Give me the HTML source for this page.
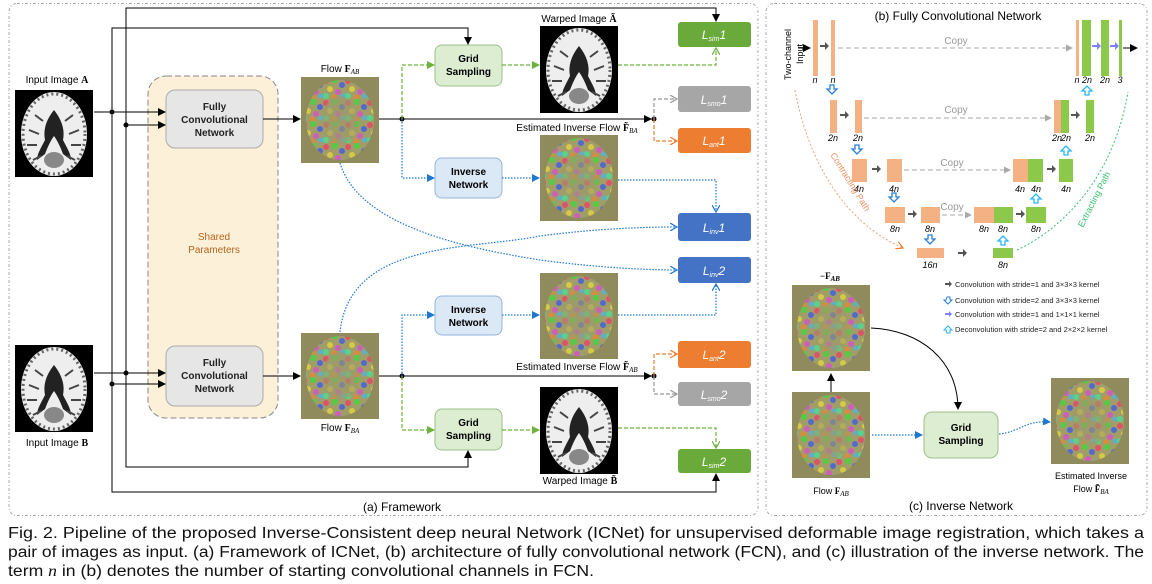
<!DOCTYPE html>
<html><head><meta charset="utf-8"><style>
html,body{margin:0;padding:0;background:#fff;}
svg{display:block;}
text{font-family:"Liberation Sans",sans-serif;}
.s{font-family:"Liberation Serif",serif;}
</style></head><body>
<svg width="1152" height="584" viewBox="0 0 1152 584" xmlns="http://www.w3.org/2000/svg">
<defs>
<marker id="ak" markerWidth="8" markerHeight="8" refX="7" refY="4" orient="auto" markerUnits="userSpaceOnUse"><path d="M0,0L8,4L0,8z" fill="#000"/></marker>
<marker id="ag" markerWidth="8" markerHeight="8" refX="7" refY="4" orient="auto" markerUnits="userSpaceOnUse"><path d="M0,0L8,4L0,8z" fill="#6bb33a"/></marker>
<marker id="agO" markerWidth="8" markerHeight="8" refX="7" refY="4" orient="auto" markerUnits="userSpaceOnUse"><path d="M0,0L7,4L0,8" fill="none" stroke="#6bb33a" stroke-width="1.2"/></marker>
<marker id="ab" markerWidth="8" markerHeight="8" refX="7" refY="4" orient="auto" markerUnits="userSpaceOnUse"><path d="M0,0L8,4L0,8z" fill="#1f77d0"/></marker>
<marker id="abO" markerWidth="8" markerHeight="8" refX="7" refY="4" orient="auto" markerUnits="userSpaceOnUse"><path d="M0,0L7,4L0,8" fill="none" stroke="#1f77d0" stroke-width="1.2"/></marker>
<marker id="aoO" markerWidth="8" markerHeight="8" refX="7" refY="4" orient="auto" markerUnits="userSpaceOnUse"><path d="M0,0L7,4L0,8" fill="none" stroke="#ee7d31" stroke-width="1.2"/></marker>
<marker id="ayO" markerWidth="8" markerHeight="8" refX="7" refY="4" orient="auto" markerUnits="userSpaceOnUse"><path d="M0,0L7,4L0,8" fill="none" stroke="#999" stroke-width="1.2"/></marker>
<marker id="ay" markerWidth="7" markerHeight="7" refX="6" refY="3.5" orient="auto" markerUnits="userSpaceOnUse"><path d="M0,0L7,3.5L0,7z" fill="#aaa"/></marker>
<pattern id="fl" width="22" height="22" patternUnits="userSpaceOnUse">
<rect width="22" height="22" fill="#a9a56e"/>
<circle cx="3" cy="4" r="3" fill="#ff3b6b"/><circle cx="12" cy="3" r="3" fill="#39e83a"/>
<circle cx="19" cy="8" r="3" fill="#3b5bff"/><circle cx="7" cy="12" r="3" fill="#f5e33a"/>
<circle cx="15" cy="15" r="3" fill="#e84be0"/><circle cx="3" cy="19" r="3" fill="#40f0a0"/>
<circle cx="11" cy="20" r="2.5" fill="#ff8a2a"/><circle cx="20" cy="19" r="2.5" fill="#44c0ff"/>
</pattern>
<g id="flow"><rect width="78" height="86" fill="#8f8b5d"/><ellipse cx="39" cy="43" rx="34" ry="40" fill="url(#fl)" opacity="0.7"/><ellipse cx="39" cy="43" rx="18" ry="24" fill="#9d9a6a" opacity="0.6"/></g>
<g id="brain"><rect width="78" height="87" fill="#000"/><ellipse cx="39" cy="44" rx="33" ry="42" fill="#eeeeee"/><ellipse cx="39" cy="44" rx="31" ry="40" fill="none" stroke="#666" stroke-width="3" stroke-dasharray="2 3"/><path d="M39,20 C31,30 28,40 30,50 C26,58 22,64 22,70 L30,64 C33,56 36,50 39,46 C42,50 45,56 48,64 L56,70 C56,64 52,58 48,50 C50,40 47,30 39,20z" fill="#222"/><ellipse cx="39" cy="70" rx="10" ry="8" fill="#888"/><path d="M14,40 l10,4 M12,55 l10,0 M64,40 l-10,4 M66,55 l-10,0 M20,25 l8,6 M58,25 l-8,6 M18,70 l8,-4 M60,70 l-8,-4" stroke="#444" stroke-width="2"/></g>
</defs>

<rect x="9" y="3.5" width="749" height="512" rx="8" fill="none" stroke="#aaa" stroke-dasharray="3 2 1 2"/>
<rect x="766" y="3.5" width="381" height="512" rx="8" fill="none" stroke="#aaa" stroke-dasharray="3 2 1 2"/>

<text x="57" y="83" font-size="10" text-anchor="middle">Input Image <tspan class="s" font-weight="bold">A</tspan></text>
<use href="#brain" x="15" y="90"/>
<use href="#brain" x="15" y="345"/>
<text x="57" y="446" font-size="10" text-anchor="middle">Input Image <tspan class="s" font-weight="bold">B</tspan></text>

<rect x="148" y="76" width="130" height="342" rx="18" fill="#fdf0d8" stroke="#888" stroke-dasharray="6 3"/>
<text x="214" y="240" font-size="10" fill="#b5651d" text-anchor="middle">Shared</text>
<text x="214" y="253" font-size="10" fill="#b5651d" text-anchor="middle">Parameters</text>
<rect x="166" y="90" width="97" height="58" rx="9" fill="#e6e6e6" stroke="#aaa"/>
<text font-size="10" font-weight="bold" text-anchor="middle" fill="#222"><tspan x="214.5" y="110">Fully</tspan><tspan x="214.5" y="123">Convolutional</tspan><tspan x="214.5" y="136">Network</tspan></text>
<rect x="166" y="346" width="97" height="60" rx="9" fill="#e6e6e6" stroke="#aaa"/>
<text font-size="10" font-weight="bold" text-anchor="middle" fill="#222"><tspan x="214.5" y="366">Fully</tspan><tspan x="214.5" y="379">Convolutional</tspan><tspan x="214.5" y="392">Network</tspan></text>

<text x="340" y="72" font-size="10" text-anchor="middle">Flow <tspan class="s" font-weight="bold">F</tspan><tspan class="s" font-style="italic" font-size="7" dy="2">AB</tspan></text>
<use href="#flow" x="301" y="77"/>
<use href="#flow" x="301" y="333"/>
<text x="340" y="431" font-size="10" text-anchor="middle">Flow <tspan class="s" font-weight="bold">F</tspan><tspan class="s" font-style="italic" font-size="7" dy="2">BA</tspan></text>

<rect x="435" y="45" width="67" height="41" rx="7" fill="#dcedd2" stroke="#9bc08a"/>
<text font-size="10" font-weight="bold" text-anchor="middle"><tspan x="468.5" y="62">Grid</tspan><tspan x="468.5" y="75">Sampling</tspan></text>
<rect x="435" y="409" width="67" height="41" rx="7" fill="#dcedd2" stroke="#9bc08a"/>
<text font-size="10" font-weight="bold" text-anchor="middle"><tspan x="468.5" y="426">Grid</tspan><tspan x="468.5" y="439">Sampling</tspan></text>
<rect x="435" y="158" width="67" height="40" rx="7" fill="#dbe8f6" stroke="#93b5dc"/>
<text font-size="10" font-weight="bold" text-anchor="middle"><tspan x="468.5" y="175">Inverse</tspan><tspan x="468.5" y="188">Network</tspan></text>
<rect x="435" y="296" width="67" height="39" rx="7" fill="#dbe8f6" stroke="#93b5dc"/>
<text font-size="10" font-weight="bold" text-anchor="middle"><tspan x="468.5" y="313">Inverse</tspan><tspan x="468.5" y="326">Network</tspan></text>

<text x="579" y="22" font-size="10" text-anchor="middle">Warped Image <tspan class="s" font-weight="bold">Ã</tspan></text>
<use href="#brain" x="540" y="26"/>
<text x="577" y="131" font-size="10" text-anchor="middle">Estimated Inverse Flow <tspan class="s" font-weight="bold">F̃</tspan><tspan class="s" font-style="italic" font-size="7" dy="2">BA</tspan></text>
<use href="#flow" x="540" y="135"/>
<use href="#flow" x="540" y="273"/>
<text x="577" y="370" font-size="10" text-anchor="middle">Estimated Inverse Flow <tspan class="s" font-weight="bold">F̃</tspan><tspan class="s" font-style="italic" font-size="7" dy="2">AB</tspan></text>
<use href="#brain" x="540" y="387"/>
<text x="580" y="484" font-size="10" text-anchor="middle">Warped Image <tspan class="s" font-weight="bold">B̃</tspan></text>

<g font-size="12" font-style="italic" fill="#fff" text-anchor="middle">
<rect x="678" y="22" width="73" height="25" rx="3" fill="#6aaa3a"/><text x="714" y="39">L<tspan font-size="7" dy="2">sim</tspan><tspan dy="-2">1</tspan></text>
<rect x="678" y="86" width="73" height="26" rx="3" fill="#a6a6a6"/><text x="714" y="104">L<tspan font-size="7" dy="2">smo</tspan><tspan dy="-2">1</tspan></text>
<rect x="678" y="128" width="73" height="25" rx="3" fill="#ed7d31"/><text x="714" y="145">L<tspan font-size="7" dy="2">ant</tspan><tspan dy="-2">1</tspan></text>
<rect x="678" y="213" width="73" height="28" rx="3" fill="#4472c4"/><text x="714" y="232">L<tspan font-size="7" dy="2">inv</tspan><tspan dy="-2">1</tspan></text>
<rect x="678" y="257" width="73" height="26" rx="3" fill="#4472c4"/><text x="714" y="275">L<tspan font-size="7" dy="2">inv</tspan><tspan dy="-2">2</tspan></text>
<rect x="678" y="341" width="73" height="27" rx="3" fill="#ed7d31"/><text x="714" y="359">L<tspan font-size="7" dy="2">ant</tspan><tspan dy="-2">2</tspan></text>
<rect x="678" y="382" width="73" height="24" rx="3" fill="#a6a6a6"/><text x="714" y="399">L<tspan font-size="7" dy="2">smo</tspan><tspan dy="-2">2</tspan></text>
<rect x="678" y="449" width="73" height="24" rx="3" fill="#6aaa3a"/><text x="714" y="466">L<tspan font-size="7" dy="2">sim</tspan><tspan dy="-2">2</tspan></text>
</g>
<text x="402" y="511" font-size="12" text-anchor="middle">(a) Framework</text>

<g stroke="#000" stroke-width="1" fill="none">
<path d="M126,125 V8 H716 V21" marker-end="url(#ak)"/>
<path d="M126,125 V467 H468 V451" marker-end="url(#ak)"/>
<path d="M112,112 V28 H468 V44" marker-end="url(#ak)"/>
<path d="M112,112 V492 H716 V474" marker-end="url(#ak)"/>
<path d="M94,112 H165" marker-end="url(#ak)"/>
<path d="M126,125 H165" marker-end="url(#ak)"/>
<path d="M94,373 H165" marker-end="url(#ak)"/>
<path d="M112,384 H165" marker-end="url(#ak)"/>
<path d="M263,119 H300" marker-end="url(#ak)"/>
<path d="M263,376 H300" marker-end="url(#ak)"/>
<path d="M379,119 H651" marker-end="url(#ak)"/>
<path d="M379,376 H651" marker-end="url(#ak)"/>
</g>
<g fill="#000">
<circle cx="112" cy="112" r="2.5"/><circle cx="126" cy="125" r="2.5"/><circle cx="126" cy="373" r="2.5"/><circle cx="112" cy="384" r="2.5"/>
<circle cx="402" cy="119" r="2.5"/><circle cx="402" cy="376" r="2.5"/><circle cx="654" cy="119" r="2.5"/><circle cx="654" cy="376" r="2.5"/>
</g>
<g fill="none" stroke-width="1.2">
<path d="M402,119 V65 H434" stroke="#6bb33a" stroke-dasharray="4 2" marker-end="url(#ag)"/>
<path d="M502,65 H539" stroke="#6bb33a" stroke-dasharray="4 2" marker-end="url(#ag)"/>
<path d="M618,65 H716 V48" stroke="#6bb33a" stroke-dasharray="4 2" marker-end="url(#agO)"/>
<path d="M402,376 V430 H434" stroke="#6bb33a" stroke-dasharray="4 2" marker-end="url(#ag)"/>
<path d="M502,430 H539" stroke="#6bb33a" stroke-dasharray="4 2" marker-end="url(#ag)"/>
<path d="M618,428 H716 V448" stroke="#6bb33a" stroke-dasharray="4 2" marker-end="url(#agO)"/>
<path d="M402,119 V178 H434" stroke="#1f77d0" stroke-dasharray="1.5 1.5" marker-end="url(#ab)"/>
<path d="M502,178 H539" stroke="#1f77d0" stroke-dasharray="1.5 1.5" marker-end="url(#ab)"/>
<path d="M618,180 H716 V212" stroke="#1f77d0" stroke-dasharray="1.5 1.5" marker-end="url(#abO)"/>
<path d="M402,376 V315 H434" stroke="#1f77d0" stroke-dasharray="1.5 1.5" marker-end="url(#ab)"/>
<path d="M502,315 H539" stroke="#1f77d0" stroke-dasharray="1.5 1.5" marker-end="url(#ab)"/>
<path d="M618,315 H716 V284" stroke="#1f77d0" stroke-dasharray="1.5 1.5" marker-end="url(#abO)"/>
<path d="M340,163 C360,230 480,250 540,260 C600,268 650,270 677,270" stroke="#1f77d0" stroke-dasharray="1.5 1.5" marker-end="url(#abO)"/>
<path d="M340,332 C350,240 470,250 540,236 C600,228 650,227 677,227" stroke="#1f77d0" stroke-dasharray="1.5 1.5" marker-end="url(#abO)"/>
<path d="M654,119 V99 H677" stroke="#999" stroke-dasharray="4 2" marker-end="url(#ayO)"/>
<path d="M654,119 V141 H677" stroke="#ee7d31" stroke-dasharray="4 2" marker-end="url(#aoO)"/>
<path d="M654,376 V354 H677" stroke="#ee7d31" stroke-dasharray="4 2" marker-end="url(#aoO)"/>
<path d="M654,376 V394 H677" stroke="#999" stroke-dasharray="4 2" marker-end="url(#ayO)"/>
</g>

<text x="958" y="20" font-size="12" text-anchor="middle">(b) Fully Convolutional Network</text>
<text x="0" y="0" font-size="9" transform="translate(791,80) rotate(-90)">Two-channel</text>
<text x="0" y="0" font-size="9" transform="translate(803,64) rotate(-90)">Input</text>
<g fill="#f4b183">
<rect x="813" y="20" width="5" height="56"/><rect x="831" y="20" width="4" height="56"/>
<rect x="830" y="100" width="7" height="33"/><rect x="855" y="100" width="7" height="33"/>
<rect x="852" y="159" width="15" height="23"/><rect x="887" y="159" width="15" height="23"/>
<rect x="885" y="207" width="20" height="16"/><rect x="921" y="207" width="19" height="16"/>
<rect x="917" y="248" width="27" height="10"/>
<rect x="1076" y="20" width="3" height="56"/>
<rect x="1054" y="100" width="7" height="33"/>
<rect x="1013" y="159" width="15" height="23"/>
<rect x="974" y="207" width="20" height="16"/>
</g>
<g fill="#8cc94a">
<rect x="1082" y="20" width="9" height="56"/><rect x="1101" y="20" width="8" height="56"/><rect x="1119" y="20" width="3" height="56"/>
<rect x="1061" y="100" width="8" height="33"/><rect x="1086" y="100" width="8" height="33"/>
<rect x="1028" y="159" width="15" height="23"/><rect x="1059" y="159" width="14" height="23"/>
<rect x="994" y="207" width="19" height="16"/><rect x="1026" y="207" width="20" height="16"/>
<rect x="993" y="248" width="20" height="10"/>
</g>
<g fill="#555">
<path d="M820,45h5v-3l4,4l-4,4v-3h-5z"/>
<path d="M840,114h5v-3l4,4l-4,4v-3h-5z"/><path d="M1071,114h5v-3l4,4l-4,4v-3h-5z"/>
<path d="M872,168h5v-3l4,4l-4,4v-3h-5z"/><path d="M1047,168h5v-3l4,4l-4,4v-3h-5z"/>
<path d="M908,213h5v-3l4,4l-4,4v-3h-5z"/><path d="M1016,213h5v-3l4,4l-4,4v-3h-5z"/>
<path d="M958,252h5v-3l4,4l-4,4v-3h-5z"/>
</g>
<g fill="#8080ff"><path d="M1092,45h5v-3l4,4l-4,4v-3h-5z"/><path d="M1110,45h5v-3l4,4l-4,4v-3h-5z"/></g>
<path d="M798,48H810" stroke="#000" marker-end="url(#ak)"/>
<path d="M1123,48H1137" stroke="#000" marker-end="url(#ak)"/>
<g stroke="#aaa" stroke-dasharray="5 3" fill="none">
<path d="M838,48H1072" marker-end="url(#ay)"/>
<path d="M864,118H1051" marker-end="url(#ay)"/>
<path d="M904,170H1010" marker-end="url(#ay)"/>
<path d="M942,215H971" marker-end="url(#ay)"/>
</g>
<g font-size="10" fill="#999" text-anchor="middle"><text x="956" y="44">Copy</text><text x="956" y="113">Copy</text><text x="952" y="166">Copy</text><text x="952" y="210">Copy</text></g>
<g fill="#fff" stroke="#2a7ed8" stroke-width="1.3">
<path d="M830,85h4v4h3l-5,5l-5,-5h3z"/><path d="M855,145h4v4h3l-5,5l-5,-5h3z"/>
<path d="M892,193h4v4h3l-5,5l-5,-5h3z"/><path d="M928,235h4v4h3l-5,5l-5,-5h3z"/>
</g>
<g fill="#fff" stroke="#29b6f6" stroke-width="1.3">
<path d="M1085,95h4v-4h3l-5,-5l-5,5h3z"/><path d="M1064,155h4v-4h3l-5,-5l-5,5h3z"/>
<path d="M1034,203h4v-4h3l-5,-5l-5,5h3z"/><path d="M1001,245h4v-4h3l-5,-5l-5,5h3z"/>
</g>
<g class="s" font-size="9" font-style="italic" text-anchor="middle">
<text x="815" y="83">n</text><text x="833" y="83">n</text>
<text x="833" y="141">2n</text><text x="858" y="141">2n</text>
<text x="859" y="192">4n</text><text x="894" y="192">4n</text>
<text x="895" y="232">8n</text><text x="930" y="232">8n</text>
<text x="930" y="268">16n</text><text x="1003" y="268">8n</text>
<text x="984" y="232">8n</text><text x="1003" y="232">8n</text><text x="1036" y="232">8n</text>
<text x="1020" y="192">4n</text><text x="1036" y="192">4n</text><text x="1066" y="192">4n</text>
<text x="1057" y="141">2n</text><text x="1066" y="141">2n</text><text x="1090" y="141">2n</text>
<text x="1077" y="83">n</text><text x="1087" y="83">2n</text><text x="1105" y="83">2n</text><text x="1120" y="83">3</text>
</g>
<path d="M795,90 C810,170 850,225 903,248" stroke="#f0a070" stroke-dasharray="2 2" fill="none" marker-end="url(#aoO)"/>
<path d="M1017,250 C1070,225 1115,170 1128,92" stroke="#3cc070" stroke-dasharray="2 2" fill="none"/>
<text font-size="9" fill="#ee9060" transform="translate(830,155) rotate(58)">Contracting Path</text>
<text font-size="9" fill="#3cc070" transform="translate(1083,228) rotate(-63)">Extracting Path</text>

<text x="830" y="279" font-size="9" text-anchor="middle" class="s" font-weight="bold">−F<tspan font-style="italic" font-size="7" dy="2">AB</tspan></text>
<use href="#flow" x="792" y="285"/>
<use href="#flow" x="792" y="392"/>
<text x="831" y="494" font-size="9" text-anchor="middle">Flow <tspan class="s" font-weight="bold">F</tspan><tspan class="s" font-style="italic" font-size="7" dy="2">AB</tspan></text>
<path d="M831,392V374" stroke="#000" marker-end="url(#ak)"/>
<path d="M871,328 C920,330 958,360 958,409" stroke="#000" fill="none" marker-end="url(#ak)"/>
<rect x="924" y="412" width="74" height="46" rx="8" fill="#dcedd2" stroke="#9bc08a"/>
<text font-size="10" font-weight="bold" text-anchor="middle"><tspan x="961" y="431">Grid</tspan><tspan x="961" y="444">Sampling</tspan></text>
<path d="M872,435H922" stroke="#1f77d0" stroke-dasharray="1.5 1.5" fill="none" stroke-width="1.2" marker-end="url(#ab)"/>
<path d="M999,434 C1020,432 1025,420 1050,422" stroke="#1f77d0" stroke-dasharray="1.5 1.5" fill="none" stroke-width="1.2" marker-end="url(#ab)"/>
<use href="#flow" x="1051" y="378"/>
<text x="1091" y="479" font-size="9" text-anchor="middle">Estimated Inverse</text>
<text x="1091" y="492" font-size="9" text-anchor="middle">Flow <tspan class="s" font-weight="bold">F̃</tspan><tspan class="s" font-style="italic" font-size="7" dy="2">BA</tspan></text>
<text x="961" y="510" font-size="12" text-anchor="middle">(c) Inverse Network</text>
<g font-size="7.5" fill="#222">
<path d="M945,283h4v-2l3,3l-3,3v-2h-4z" fill="#555"/><text x="955" y="287">Convolution with stride=1 and 3×3×3 kernel</text>
<path d="M947,297h3v3h2l-4,4l-4,-4h2z" fill="#fff" stroke="#2a7ed8"/><text x="955" y="303">Convolution with stride=2 and 3×3×3 kernel</text>
<path d="M945,313h4v-2l3,3l-3,3v-2h-4z" fill="#8080ff"/><text x="955" y="317">Convolution with stride=1 and 1×1×1 kernel</text>
<path d="M947,333h3v-3h2l-4,-4l-4,4h2z" fill="#fff" stroke="#29b6f6"/><text x="955" y="332">Deconvolution with stride=2 and 2×2×2 kernel</text>
</g>

<g font-size="15.5" fill="#111">
<text x="8" y="538" textLength="1136" lengthAdjust="spacingAndGlyphs">Fig. 2. Pipeline of the proposed Inverse-Consistent deep neural Network (ICNet) for unsupervised deformable image registration, which takes a</text>
<text x="8" y="557" textLength="1136" lengthAdjust="spacingAndGlyphs">pair of images as input. (a) Framework of ICNet, (b) architecture of fully convolutional network (FCN), and (c) illustration of the inverse network. The</text>
<text x="8" y="576" textLength="586" lengthAdjust="spacingAndGlyphs">term <tspan class="s" font-style="italic">n</tspan> in (b) denotes the number of starting convolutional channels in FCN.</text>
</g>
</svg>
</body></html>
